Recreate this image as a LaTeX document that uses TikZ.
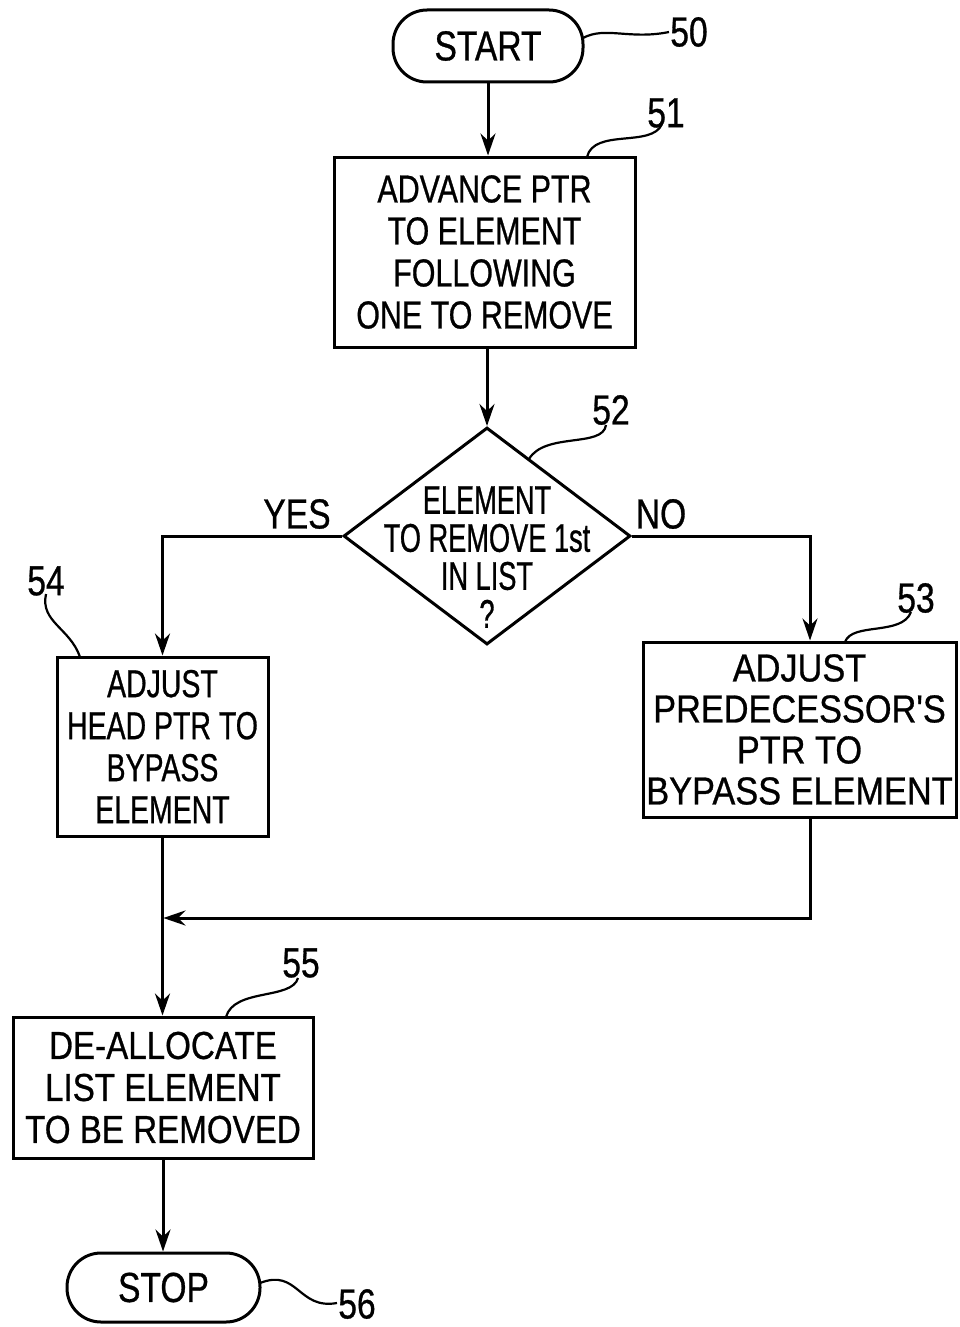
\documentclass[tikz,border=0pt]{standalone}
\usepackage{fontspec}
\setmainfont{Liberation Sans}
\newfontfamily\fA[FakeStretch=0.78,FakeBold=0.7]{Liberation Sans}
\newfontfamily\fB[FakeStretch=0.88,FakeBold=0.7]{Liberation Sans}
\newfontfamily\fC[FakeStretch=0.68,FakeBold=0.7]{Liberation Sans}
\newfontfamily\fD[FakeStretch=0.73,FakeBold=0.7]{Liberation Sans}
\newfontfamily\fE[FakeStretch=0.85,FakeBold=0.7]{Liberation Sans}
\newfontfamily\fN[FakeStretch=0.80,FakeBold=0.7]{Liberation Sans}
\usetikzlibrary{shapes.geometric,arrows.meta,calc}
\begin{document}
\begin{tikzpicture}[x=0.5pt,y=-0.5pt,
  box/.style={draw, line width=1.5pt, inner sep=0pt, align=center},
  term/.style={draw, line width=1.5pt, rounded corners=17pt, inner sep=0pt, font=\fN\fontsize{21}{21}\selectfont},
  lbl/.style={inner sep=0pt, font=\fN\fontsize{21}{21}\selectfont},
  arr/.style={line width=1.5pt, -{Stealth[length=11pt,width=7.5pt]}},
  lead/.style={line width=1.1pt}]
\useasboundingbox (0,0) rectangle (959,1327);
% nodes
\node[term, minimum width=95pt, minimum height=36pt] (start) at (488,46) {START};
\node[box, minimum width=150.5pt, minimum height=95pt, font=\fA\fontsize{19.5}{21}\selectfont] (b51) at (484.5,252) {ADVANCE PTR\\TO ELEMENT\\FOLLOWING\\ONE TO REMOVE};
\node[draw, diamond, line width=1.5pt, minimum width=143.5pt, minimum height=108.5pt, inner sep=0pt] (d52) at (487,536) {};
\node[align=center, inner sep=0pt, font=\fC\fontsize{20}{19}\selectfont] (t52) at (487,557) {ELEMENT\\TO REMOVE 1st\\IN LIST\\?};
\node[box, minimum width=105.5pt, minimum height=89.5pt, font=\fD\fontsize{19.5}{21}\selectfont] (b54) at (162.5,746.5) {ADJUST\\HEAD PTR TO\\BYPASS\\ELEMENT};
\node[box, minimum width=156.5pt, minimum height=87.5pt, font=\fB\fontsize{19.5}{20.5}\selectfont] (b53) at (799.5,729.5) {ADJUST\\PREDECESSOR'S\\PTR TO\\BYPASS ELEMENT};
\node[box, minimum width=150pt, minimum height=70.5pt, font=\fE\fontsize{19.5}{21}\selectfont] (b55) at (163,1087.5) {DE-ALLOCATE\\LIST ELEMENT\\TO BE REMOVED};
\node[term, minimum width=96.5pt, minimum height=34.5pt] (stop) at (163.5,1287.5) {STOP};
% branch labels
\node[lbl] (yes) at (297,514) {YES};
\node[lbl] (no) at (661,514) {NO};
% reference numerals
\node[lbl] (l50) at (689,32) {50};
\node[lbl] (l51) at (666,113) {51};
\node[lbl] (l52) at (611,410) {52};
\node[lbl] (l53) at (916,598) {53};
\node[lbl] (l54) at (46,581) {54};
\node[lbl] (l55) at (301,963) {55};
\node[lbl] (l56) at (357,1304) {56};
% coordinates
\coordinate (m) at (162,918);
\coordinate (in53) at ($(b53.north)+(10.5,0)$);
\coordinate (out53) at ($(b53.south)+(10.5,0)$);
% connectors
\draw[arr] (start.south) -- (start.south |- b51.north);
\draw[arr] (b51.south -| d52.north) -- (d52.north);
\draw[arr] (d52.west) -| (b54.north);
\draw[arr] (d52.east) -| (in53);
\draw[arr] (b54.south) -- (b54.south |- b55.north);
\draw[arr, shorten >=0.7pt] (out53) |- (m);
\draw[arr] (b55.south) -- (b55.south |- stop.north);
% leaders
\coordinate (p50) at (583,38);
\coordinate (p51) at (587,157);
\coordinate (p52) at (529,459);
\coordinate (p53) at (845,642);
\coordinate (p54) at (80,657);
\coordinate (p55) at (226,1017);
\coordinate (p56) at (260,1283);
\draw[lead] (p50) .. controls (605,26) and (630,40) .. (669,32);
\draw[lead] (p51) .. controls (594,128) and (652,148) .. (662,124);
\draw[lead] (p52) .. controls (545,432) and (603,448) .. (606,425);
\draw[lead] (p53) .. controls (852,622) and (902,636) .. (911,612);
\draw[lead] (p54) .. controls (70,628) and (40,622) .. (46,594);
\draw[lead] (p55) .. controls (234,988) and (292,1000) .. (298,978);
\draw[lead] (p56) .. controls (298,1268) and (298,1310) .. (337,1303);
\end{tikzpicture}
\end{document}
